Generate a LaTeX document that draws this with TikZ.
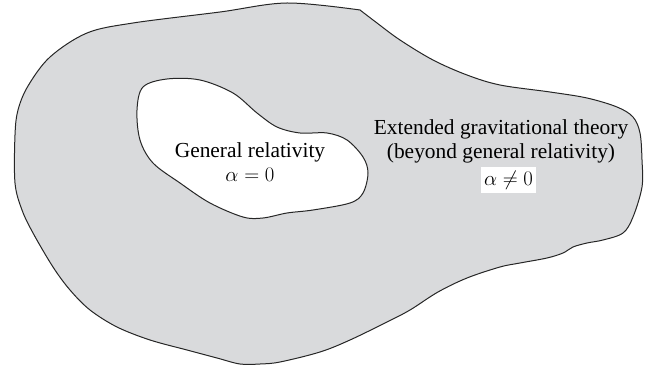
\documentclass[tikz,border=0pt]{standalone}
\usepackage{fontspec}
\setmainfont{Liberation Serif}
\usepackage{tikz}
\definecolor{theorygray}{RGB}{217,218,220}

\begin{document}
\begin{tikzpicture}[
  x=1pt, y=-1pt,
  region/.style={draw=black!85, line width=1pt},
  label/.style={align=center, inner sep=0pt,
    font=\fontsize{21.4}{24}\selectfont},
  ]
  \useasboundingbox (0,0) rectangle (655,371);

  % Theorie etendue (region grise)
  \draw[region, fill=theorygray] plot[smooth, tension=0.55] coordinates {
    (360,10) (377,23) (400,40) (433,60) (467,75) (500,85) (550,92)
    (587,98) (617,107) (633,117) (640,133) (642,160) (642,187)
    (633,217) (623,233) (603,240) (587,243) (573,247) (563,253)
    (547,258) (520,263) (500,267) (467,278) (438,292)
    (410,310) (387,322) (350,340) (320,352) (280,362) (260,364)
    (240,364) (217,358) (187,350) (150,340) (117,327) (90,310)
    (70,290) (53,267) (33,233) (22,210) (15,183) (15,135) (18,110)
    (28,86) (50,57) (87,33) (133,23) (220,12) (287,3) (360,10)} -- cycle;

  % Relativite generale (region blanche)
  \draw[region, fill=white] plot[smooth cycle, tension=0.55] coordinates {
    (167,79) (200,80) (233,93) (257,113) (277,127) (300,133)
    (327,133) (347,140) (363,157) (368,173) (363,193) (350,203)
    (313,210) (287,213) (263,218) (243,217) (210,203) (180,183)
    (153,163) (140,140) (137,110) (143,87)};

  % Textes
  \node[label] (gr) at (250,162) {General relativity\\$\alpha = 0$};
  \node[label] (ext) at (501,141)
    {Extended gravitational theory\\(beyond general relativity)};
  \node[label, fill=white, minimum width=55pt, minimum height=26pt]
    (extalpha) at (508.5,180) {$\alpha \neq 0$};
\end{tikzpicture}
\end{document}
